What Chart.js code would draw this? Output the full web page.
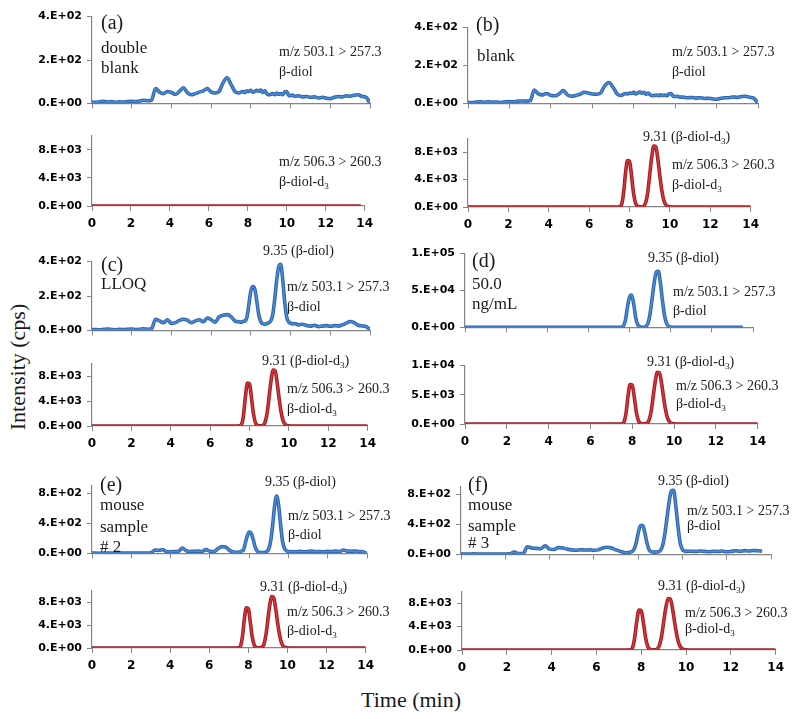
<!DOCTYPE html>
<html>
<head>
<meta charset="utf-8">
<script src="https://cdn.jsdelivr.net/npm/chart.js@4.4.1/dist/chart.umd.min.js"></script>
<style>
  html, body { margin:0; padding:0; background:#fff; }
  #root { position:relative; width:800px; height:719px; overflow:hidden; background:#fff; }
  canvas { position:absolute; }
  .ann { position:absolute; font-family:'Liberation Serif','Times New Roman',serif; line-height:1; white-space:nowrap; color:#1a1a1a; z-index:5; }
  .ann sub { font-size:0.65em; vertical-align:-0.28em; line-height:0; }
</style>
</head>
<body>
<div id="root"></div>
<script>
// ---------------- DATA ----------------
const xTickValues = [0, 2, 4, 6, 8, 10, 12, 14];
const yTicks400 = [0, 200, 400];
const yTicks10k = [0, 4000, 8000];
const yTicks100k = [0, 50000, 100000];
const yTicks10kD = [0, 5000, 10000];
const yTicks900 = [0, 400, 800];

const timeFull = [0,0.2,0.4,0.6,0.8,1,1.2,1.4,1.6,1.8,
  2,2.2,2.4,2.6,2.8,3,3.2,3.4,3.6,3.8,
  4,4.2,4.4,4.6,4.8,5,5.2,5.4,5.6,5.8,
  6,6.2,6.4,6.6,6.8,7,7.2,7.4,7.5,7.6,
  7.7,7.8,7.9,8,8.1,8.2,8.3,8.4,8.5,8.6,
  8.7,8.8,8.9,9,9.1,9.2,9.3,9.4,9.5,9.6,
  9.7,9.8,9.9,10,10.1,10.2,10.4,10.6,10.8,11,
  11.2,11.4,11.6,11.8,12,12.2,12.4,12.6,12.8,13,
  13.2,13.4,13.6,13.8,14];

const timePeak = [0,7.4,7.5,7.6,7.7,7.8,7.9,8,8.1,8.2,8.3,8.4,8.5,8.6,8.7,8.8,8.9,9,9.1,9.2,9.3,9.4,9.5,9.6,9.7,9.8,9.9,10,10.1,10.2,14];
const timePeakD = [0,7.4,7.5,7.6,7.7,7.8,7.9,8,8.1,8.2,8.3,8.4,8.5,8.6,8.7,8.8,8.9,9,9.1,9.2,9.3,9.4,9.5,9.6,9.7,9.8,9.9,10,10.1,10.2,13.5];
const timeFlat = [0, 13.8];

// beta-diol traces (m/z 503.1 > 257.3), cps
const blueA = [5,5,8,10,6,8,5,7,6,9,
  10,8,11,14,12,15,68,52,45,55,
  50,42,55,72,50,40,45,52,58,68,
  52,48,55,95,118,88,55,48,52,55,
  50,58,55,60,52,55,60,56,62,50,
  58,45,40,42,45,40,48,42,45,40,
  52,55,38,35,38,33,35,30,32,28,
  30,25,28,24,22,28,32,30,35,33,
  38,40,32,28,0];
const blueB = [5,4,7,9,6,8,6,7,5,9,
  10,8,12,13,12,14,70,50,45,52,
  42,40,50,68,45,38,42,48,58,55,
  50,48,55,92,110,85,50,42,48,52,
  50,55,52,58,50,55,60,54,58,48,
  55,45,40,42,44,40,46,42,44,40,
  50,52,38,36,38,34,33,30,31,28,
  30,26,27,24,22,27,30,30,34,32,
  36,38,32,27,0];
const blueC = [4,5,3,6,8,5,4,6,5,7,
  8,5,6,9,7,10,65,55,45,62,
  40,45,58,65,60,45,55,62,50,72,
  62,48,78,88,92,80,55,50,48,52,
  55,75,150,230,255,240,170,90,50,38,
  35,40,45,55,90,180,290,370,385,300,
  170,80,50,42,38,40,32,36,28,25,
  30,22,25,28,24,28,25,32,42,52,
  45,30,26,22,5];
const blueD = [0,0,0,200,2000,10000,28000,41000,44000,32000,13000,3500,700,150,300,1500,6000,19000,40000,61000,75000,76000,60000,36000,16000,5500,1500,400,100,0,0];
const blueE = [3,4,2,5,3,4,2,3,4,3,
  5,3,4,6,5,8,45,40,48,25,
  22,25,28,70,35,25,28,30,25,50,
  28,22,60,90,85,40,20,15,15,30,
  40,130,230,285,270,190,90,35,15,10,
  10,12,25,60,170,380,640,760,640,380,
  160,65,35,25,22,25,20,28,22,25,
  30,22,25,20,28,24,30,25,45,30,
  28,32,25,22,0];
const blueF = [5,6,4,7,5,6,4,5,6,5,
  6,8,30,12,10,100,85,80,75,115,
  70,65,90,85,70,60,55,62,58,60,
  55,60,85,95,85,60,40,22,20,28,
  35,60,140,280,380,385,290,150,60,35,
  30,30,35,50,110,260,480,700,840,850,
  650,370,150,65,45,40,42,38,45,40,
  35,42,38,45,35,40,48,42,50,45,
  52,48,45,null,null];

// beta-diol-d3 traces (m/z 506.3 > 260.3), cps
const redA = [0, 0];
const redB = [0,0,20,300,1900,4900,6800,6700,4600,2000,550,120,30,20,120,650,2100,4700,7300,8900,8800,7100,4600,2400,950,320,90,25,0,0,0];
const redC = [0,0,15,280,1850,4950,6900,6750,4500,1950,520,110,30,25,130,700,2200,4800,7400,8950,8850,7000,4500,2300,900,300,80,20,0,0,0];
const redD = [0,0,20,290,1800,4800,6750,6650,4550,1950,540,120,30,20,120,640,2050,4650,7250,8850,8800,7050,4550,2350,930,310,85,25,0,0,0];
const redE = [0,0,25,350,2100,5200,7000,6800,4500,1900,500,110,30,20,140,720,2300,5000,7600,8950,8700,6800,4300,2200,850,280,80,20,0,0,0];
const redF = [0,0,20,300,1900,4900,6850,6750,4600,2000,540,120,30,20,120,660,2150,4750,7300,8800,8750,7000,4500,2300,900,300,85,25,0,0,0];

// ---------------- LAYOUT / STYLE ----------------
const BLUE = {edge:'#2f64a8', core:'#4a8ad6'};
const RED = {edge:'#9c1d22', core:'#d8343a'};
const AXIS = '#858585';
const YW = 60, PADT = 8, PADR = 12;

function fmtSci(v) {
  if (v === 0) return '0.E+00';
  const e = Math.floor(Math.log10(v) + 1e-9);
  const m = Math.round(v / Math.pow(10, e));
  return m + '.E+' + String(e).padStart(2, '0');
}

const specs = [
  {L:92,  R:370, top:13,  y0:107, max:400,    yt:yTicks400,  t:timeFull,  v:blueA, c:BLUE, xl:false},
  {L:92,  R:367, top:132, y0:206, max:10000,  yt:yTicks10k,  t:timeFlat,  v:redA,  c:RED,  xl:true},
  {L:468, R:758, top:24,  y0:107, max:400,    yt:yTicks400,  t:timeFull,  v:blueB, c:BLUE, xl:false},
  {L:468, R:753, top:135, y0:207, max:10000,  yt:yTicks10k,  t:timePeak,  v:redB,  c:RED,  xl:true},
  {L:92,  R:370, top:258, y0:334, max:400,    yt:yTicks400,  t:timeFull,  v:blueC, c:BLUE, xl:false},
  {L:92,  R:370, top:360, y0:426, max:10000,  yt:yTicks10k,  t:timePeak,  v:redC,  c:RED,  xl:true},
  {L:465, R:753, top:250, y0:331, max:100000, yt:yTicks100k, t:timePeakD, v:blueD, c:BLUE, xl:false},
  {L:465, R:760, top:362, y0:424, max:10000,  yt:yTicks10kD, t:timePeak,  v:redD,  c:RED,  xl:true},
  {L:92,  R:367, top:482, y0:557, max:900,    yt:yTicks900,  t:timeFull,  v:blueE, c:BLUE, xl:false},
  {L:92,  R:368, top:587, y0:648, max:10000,  yt:yTicks10k,  t:timePeak,  v:redE,  c:RED,  xl:true},
  {L:461, R:771, top:483, y0:558, max:900,    yt:yTicks900,  t:timeFull,  v:blueF, c:BLUE, xl:false},
  {L:462, R:778, top:588, y0:650, max:10000,  yt:yTicks10k,  t:timePeak,  v:redF,  c:RED,  xl:true}
];

const root = document.getElementById('root');

specs.forEach(s => {
  const XH = s.xl ? 28 : 8;
  const W = YW + (s.R - s.L) + PADR;
  const H = PADT + (s.y0 - s.top) + XH;
  const cv = document.createElement('canvas');
  cv.width = W; cv.height = H;
  cv.style.left = (s.L - YW) + 'px';
  cv.style.top = (s.top - PADT) + 'px';
  cv.style.width = W + 'px';
  cv.style.height = H + 'px';
  root.appendChild(cv);
  const pts = s.t.map((x, i) => ({x: x, y: s.v[i]}));
  const mk = (col, w, order) => ({
    data: pts, borderColor: col, borderWidth: w, pointRadius: 0, fill: false,
    cubicInterpolationMode: 'monotone', spanGaps: false, order: order
  });
  new Chart(cv.getContext('2d'), {
    type: 'line',
    data: { datasets: [ mk(s.c.edge, 3.6, 2), mk(s.c.core, 1.6, 1) ] },
    options: {
      responsive: false,
      animation: false,
      devicePixelRatio: 1,
      layout: { padding: { top: PADT, right: PADR, left: 0, bottom: 0 } },
      plugins: { legend: { display: false }, tooltip: { enabled: false } },
      scales: {
        x: {
          type: 'linear', min: 0, max: 14,
          afterBuildTicks: a => { a.ticks = xTickValues.map(v => ({value: v})); },
          afterFit: a => { a.height = XH; },
          ticks: { display: s.xl, color: '#000', padding: 6, maxRotation: 0, autoSkip: false,
                   font: { family: 'DejaVu Sans', weight: 'bold', size: 12 } },
          grid: { display: true, drawOnChartArea: false, drawTicks: true, tickLength: 5, color: AXIS, lineWidth: 1 },
          border: { display: true, color: AXIS, width: 1.2 }
        },
        y: {
          min: 0, max: s.max,
          afterBuildTicks: a => { a.ticks = s.yt.map(v => ({value: v})); },
          afterFit: a => { a.width = YW; },
          ticks: { color: '#000', padding: 5, callback: v => fmtSci(v),
                   font: { family: 'DejaVu Sans', weight: 'bold', size: 11 } },
          grid: { display: true, drawOnChartArea: false, drawTicks: true, tickLength: 5, color: AXIS, lineWidth: 1 },
          border: { display: true, color: AXIS, width: 1.2 }
        }
      }
    }
  });
});

// ---------------- TEXT ----------------
const texts = [
  ['(a)', 101, 12, 20], ['double', 101, 39, 17], ['blank', 101, 59, 17],
  ['m/z 503.1 &gt; 257.3', 279, 45, 14], ['β-diol', 279, 65, 14],
  ['m/z 506.3 &gt; 260.3', 279, 155, 14], ['β-diol-d<sub>3</sub>', 279, 175, 14],

  ['(b)', 476, 14, 20], ['blank', 477, 47, 17],
  ['m/z 503.1 &gt; 257.3', 672, 45, 14], ['β-diol', 672, 65, 14],
  ['9.31 (β-diol-d<sub>3</sub>)', 643, 130, 14],
  ['m/z 506.3 &gt; 260.3', 672, 158, 14], ['β-diol-d<sub>3</sub>', 672, 178, 14],

  ['(c)', 101, 254, 20], ['LLOQ', 101, 275, 17],
  ['9.35 (β-diol)', 263, 244, 14],
  ['m/z 503.1 &gt; 257.3', 287, 280, 14], ['β-diol', 287, 300, 14],
  ['9.31 (β-diol-d<sub>3</sub>)', 262, 354, 14],
  ['m/z 506.3 &gt; 260.3', 287, 382, 14], ['β-diol-d<sub>3</sub>', 287, 402, 14],

  ['(d)', 472, 250, 20], ['50.0', 472, 275, 17], ['ng/mL', 472, 295, 17],
  ['9.35 (β-diol)', 648, 251, 14],
  ['m/z 503.1 &gt; 257.3', 673, 285, 14], ['β-diol', 673, 304, 14],
  ['9.31 (β-diol-d<sub>3</sub>)', 647, 355, 14],
  ['m/z 506.3 &gt; 260.3', 676, 379, 14], ['β-diol-d<sub>3</sub>', 676, 397, 14],

  ['(e)', 100, 474, 20], ['mouse', 100, 496, 17], ['sample', 100, 518, 17], ['# 2', 100, 538, 17],
  ['9.35 (β-diol)', 265, 475, 14],
  ['m/z 503.1 &gt; 257.3', 288, 509, 14], ['β-diol', 288, 528, 14],
  ['9.31 (β-diol-d<sub>3</sub>)', 260, 580, 14],
  ['m/z 506.3 &gt; 260.3', 287, 605, 14], ['β-diol-d<sub>3</sub>', 287, 624, 14],

  ['(f)', 468, 474, 20], ['mouse', 468, 496, 17], ['sample', 468, 517, 17], ['# 3', 468, 534, 17],
  ['9.35 (β-diol)', 658, 474, 14],
  ['m/z 503.1 &gt; 257.3', 687, 504, 14], ['β-diol', 687, 519, 14],
  ['9.31 (β-diol-d<sub>3</sub>)', 658, 579, 14],
  ['m/z 506.3 &gt; 260.3', 685, 606, 14], ['β-diol-d<sub>3</sub>', 685, 622, 14]
];
texts.forEach(([h, x, y, f]) => {
  const d = document.createElement('div');
  d.className = 'ann';
  d.innerHTML = h;
  d.style.left = x + 'px';
  d.style.top = y + 'px';
  d.style.fontSize = f + 'px';
  root.appendChild(d);
});

// axis titles
const yt = document.createElement('div');
yt.className = 'ann';
yt.textContent = 'Intensity (cps)';
yt.style.fontSize = '22px';
yt.style.left = '18px';
yt.style.top = '367px';
yt.style.transform = 'translate(-50%,-50%) rotate(-90deg)';
root.appendChild(yt);

const xt = document.createElement('div');
xt.className = 'ann';
xt.textContent = 'Time (min)';
xt.style.fontSize = '22px';
xt.style.left = '361px';
xt.style.top = '689px';
root.appendChild(xt);
</script>
</body>
</html>
